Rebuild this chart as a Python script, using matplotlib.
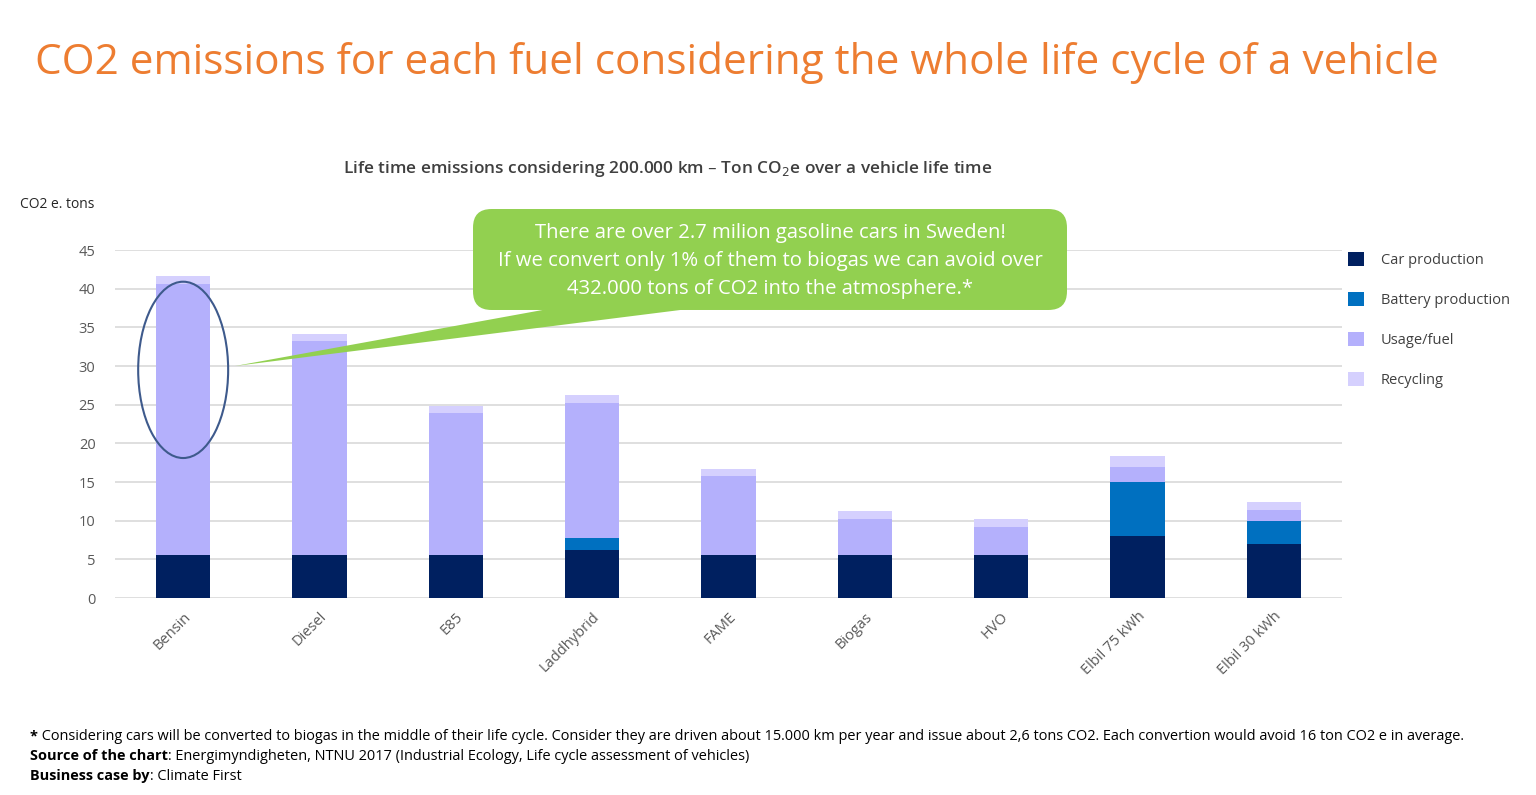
import numpy as np
import matplotlib
matplotlib.use("Agg")
import matplotlib.pyplot as plt
from matplotlib.patches import Ellipse, FancyBboxPatch, Polygon

# data (tons CO2e over vehicle life time)
fuels = ["Bensin", "Diesel", "E85", "Laddhybrid", "FAME", "Biogas", "HVO",
         "Elbil 75 kWh", "Elbil 30 kWh"]
car_production = [5.5, 5.5, 5.5, 6.2, 5.5, 5.5, 5.5, 8.0, 7.0]
battery_production = [0, 0, 0, 1.6, 0, 0, 0, 7.0, 2.9]
usage_fuel = [35.1, 27.7, 18.4, 17.4, 10.3, 4.7, 3.7, 1.9, 1.5]
recycling = [1.0, 1.0, 0.9, 1.1, 0.9, 1.0, 1.0, 1.4, 1.0]

series = ["Car production", "Battery production", "Usage/fuel", "Recycling"]
colors = ["#002060", "#0070C0", "#B4B0FC", "#D5D0FE"]
yticks = list(range(0, 50, 5))

W, H = 1536, 795
fig = plt.figure(figsize=(W / 100, H / 100), dpi=100)
plt.rcParams['font.family'] = ['Open Sans', 'DejaVu Sans']


def fx(px):
    return px / W


def fy(py):
    return 1 - py / H


ax = fig.add_axes([fx(115), fy(598), fx(1342) - fx(115), fy(250) - fy(598)])
x = np.arange(len(fuels))
bottom = np.zeros(len(fuels))
handles = []
for name, vals, c in zip(series, [car_production, battery_production, usage_fuel, recycling], colors):
    b = ax.bar(x, vals, 0.4, bottom=bottom, color=c, label=name, zorder=3)
    handles.append(b)
    bottom += np.array(vals)

ax.set_xlim(-0.5, len(fuels) - 0.5)
ax.set_ylim(0, 45)
ax.set_yticks(yticks)
ax.tick_params(axis='y', length=0, labelsize=10.5, labelcolor="#595959", pad=14)
ax.tick_params(axis='x', length=0, labelsize=10.5, labelcolor="#595959", pad=8)
ax.set_xticks(x)
ax.set_xticklabels(fuels, rotation=45, ha='right', va='top', rotation_mode='anchor')
ax.grid(axis='y', color="#D9D9D9", linewidth=1.2, zorder=0)
for s in ax.spines.values():
    s.set_visible(False)

# highlight ellipse around Bensin
ax.add_patch(Ellipse((0, 29.5), 0.66, 22.8, fill=False, edgecolor="#3E5A8C",
                     linewidth=1.5, zorder=5, clip_on=False))

# legend
leg = fig.legend(handles=handles, labels=series, loc='upper left',
                 bbox_to_anchor=(fx(1335), fy(239)), frameon=False,
                 fontsize=10.5, labelspacing=1.65, handlelength=1.1,
                 handleheight=1.1, handletextpad=1.15, labelcolor="#404040")

# callout
tr = fig.transFigure
fig.patches.append(Polygon([(fx(235), fy(366)), (fx(570), fy(305)), (fx(720), fy(305))],
                           closed=True, transform=tr, facecolor="#92D050",
                           edgecolor="none", zorder=6))
fig.patches.append(FancyBboxPatch((fx(483), fy(300)), fx(1057) - fx(483), fy(219) - fy(300),
                                  boxstyle="round,pad=0.0065,rounding_size=0.012",
                                  transform=tr, facecolor="#92D050", edgecolor="none",
                                  zorder=6, mutation_aspect=W / H))
callout = ["There are over 2.7 milion gasoline cars in Sweden!",
           "If we convert only 1% of them to biogas we can avoid over",
           "432.000 tons of CO2 into the atmosphere.*"]
for i, line in enumerate(callout):
    fig.text(fx(770), fy(233 + 28 * i), line, ha='center', va='center',
             color='white', fontsize=14.6, zorder=7)

# titles
fig.text(fx(35), fy(63), "CO2 emissions for each fuel considering the whole life cycle of a vehicle",
         ha='left', va='center', color="#ED7D31", fontsize=30.4)
fig.text(fx(668), fy(169), r"Life time emissions considering 200.000 km – Ton CO$_2$e over a vehicle life time",
         ha='center', va='center', color="#404040", fontsize=12.45, fontweight='semibold')
fig.text(fx(20), fy(205), "CO2 e. tons", ha='left', va='center', color="#262626", fontsize=10)

# footnotes with bold lead-ins
notes = [("*", " Considering cars will be converted to biogas in the middle of their life cycle. "
                "Consider they are driven about 15.000 km per year and issue about 2,6 tons CO2. "
                "Each convertion would avoid 16 ton CO2 e in average."),
         ("Source of the chart", ": Energimyndigheten, NTNU 2017 (Industrial Ecology, Life cycle assessment of vehicles)"),
         ("Business case by", ": Climate First")]
fig.canvas.draw()
r = fig.canvas.get_renderer()
for i, (b, rest) in enumerate(notes):
    t = fig.text(fx(30), fy(736 + 20 * i), b, ha='left', va='center', fontsize=10.45,
                 fontweight='bold', color='black')
    ext = t.get_window_extent(r)
    fig.text(ext.x1 / W, fy(736 + 20 * i), rest, ha='left', va='center',
             fontsize=10.45, color='black')

fig.savefig("out.png", dpi=100)
